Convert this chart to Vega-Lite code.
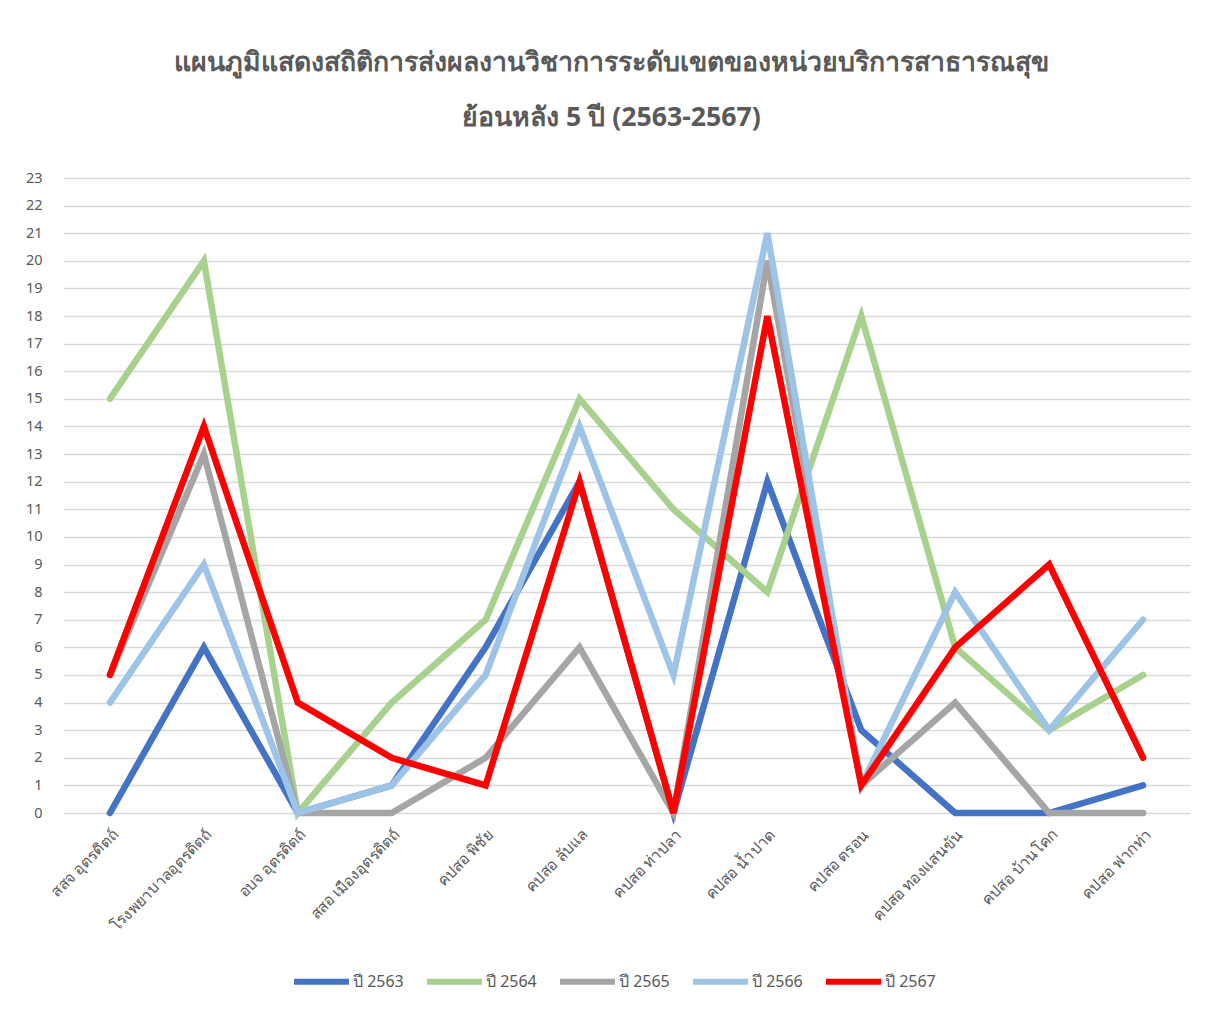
{
  "$schema": "https://vega.github.io/schema/vega-lite/v6.json",
  "autosize": {"type": "none"},
  "padding": {"left": 63, "top": 178, "right": 25, "bottom": 206},
  "width": 1127,
  "height": 635,
  "background": "white",
  "title": {
    "text": ["แผนภูมิแสดงสถิติการส่งผลงานวิชาการระดับเขตของหน่วยบริการสาธารณสุข", "ย้อนหลัง 5 ปี (2563-2567)"],
    "anchor": "middle",
    "dx": -15,
    "fontSize": 26.7,
    "fontWeight": "bold",
    "color": "#595959",
    "lineHeight": 55,
    "offset": 38,
    "font": "Noto Sans"
  },
  "data": {
    "values": [
      {"unit": "สสจ อุตรดิตถ์", "year": "ปี 2563", "value": 0},
      {"unit": "โรงพยาบาลอุตรดิตถ์", "year": "ปี 2563", "value": 6},
      {"unit": "อบจ อุตรดิตถ์", "year": "ปี 2563", "value": 0},
      {"unit": "สสอ เมืองอุตรดิตถ์", "year": "ปี 2563", "value": 1},
      {"unit": "คปสอ พิชัย", "year": "ปี 2563", "value": 6},
      {"unit": "คปสอ ลับแล", "year": "ปี 2563", "value": 12},
      {"unit": "คปสอ ท่าปลา", "year": "ปี 2563", "value": 0},
      {"unit": "คปสอ น้ำปาด", "year": "ปี 2563", "value": 12},
      {"unit": "คปสอ ตรอน", "year": "ปี 2563", "value": 3},
      {"unit": "คปสอ ทองแสนขัน", "year": "ปี 2563", "value": 0},
      {"unit": "คปสอ บ้านโคก", "year": "ปี 2563", "value": 0},
      {"unit": "คปสอ ฟากท่า", "year": "ปี 2563", "value": 1},
      {"unit": "สสจ อุตรดิตถ์", "year": "ปี 2564", "value": 15},
      {"unit": "โรงพยาบาลอุตรดิตถ์", "year": "ปี 2564", "value": 20},
      {"unit": "อบจ อุตรดิตถ์", "year": "ปี 2564", "value": 0},
      {"unit": "สสอ เมืองอุตรดิตถ์", "year": "ปี 2564", "value": 4},
      {"unit": "คปสอ พิชัย", "year": "ปี 2564", "value": 7},
      {"unit": "คปสอ ลับแล", "year": "ปี 2564", "value": 15},
      {"unit": "คปสอ ท่าปลา", "year": "ปี 2564", "value": 11},
      {"unit": "คปสอ น้ำปาด", "year": "ปี 2564", "value": 8},
      {"unit": "คปสอ ตรอน", "year": "ปี 2564", "value": 18},
      {"unit": "คปสอ ทองแสนขัน", "year": "ปี 2564", "value": 6},
      {"unit": "คปสอ บ้านโคก", "year": "ปี 2564", "value": 3},
      {"unit": "คปสอ ฟากท่า", "year": "ปี 2564", "value": 5},
      {"unit": "สสจ อุตรดิตถ์", "year": "ปี 2565", "value": 5},
      {"unit": "โรงพยาบาลอุตรดิตถ์", "year": "ปี 2565", "value": 13},
      {"unit": "อบจ อุตรดิตถ์", "year": "ปี 2565", "value": 0},
      {"unit": "สสอ เมืองอุตรดิตถ์", "year": "ปี 2565", "value": 0},
      {"unit": "คปสอ พิชัย", "year": "ปี 2565", "value": 2},
      {"unit": "คปสอ ลับแล", "year": "ปี 2565", "value": 6},
      {"unit": "คปสอ ท่าปลา", "year": "ปี 2565", "value": 0},
      {"unit": "คปสอ น้ำปาด", "year": "ปี 2565", "value": 20},
      {"unit": "คปสอ ตรอน", "year": "ปี 2565", "value": 1},
      {"unit": "คปสอ ทองแสนขัน", "year": "ปี 2565", "value": 4},
      {"unit": "คปสอ บ้านโคก", "year": "ปี 2565", "value": 0},
      {"unit": "คปสอ ฟากท่า", "year": "ปี 2565", "value": 0},
      {"unit": "สสจ อุตรดิตถ์", "year": "ปี 2566", "value": 4},
      {"unit": "โรงพยาบาลอุตรดิตถ์", "year": "ปี 2566", "value": 9},
      {"unit": "อบจ อุตรดิตถ์", "year": "ปี 2566", "value": 0},
      {"unit": "สสอ เมืองอุตรดิตถ์", "year": "ปี 2566", "value": 1},
      {"unit": "คปสอ พิชัย", "year": "ปี 2566", "value": 5},
      {"unit": "คปสอ ลับแล", "year": "ปี 2566", "value": 14},
      {"unit": "คปสอ ท่าปลา", "year": "ปี 2566", "value": 5},
      {"unit": "คปสอ น้ำปาด", "year": "ปี 2566", "value": 21},
      {"unit": "คปสอ ตรอน", "year": "ปี 2566", "value": 1},
      {"unit": "คปสอ ทองแสนขัน", "year": "ปี 2566", "value": 8},
      {"unit": "คปสอ บ้านโคก", "year": "ปี 2566", "value": 3},
      {"unit": "คปสอ ฟากท่า", "year": "ปี 2566", "value": 7},
      {"unit": "สสจ อุตรดิตถ์", "year": "ปี 2567", "value": 5},
      {"unit": "โรงพยาบาลอุตรดิตถ์", "year": "ปี 2567", "value": 14},
      {"unit": "อบจ อุตรดิตถ์", "year": "ปี 2567", "value": 4},
      {"unit": "สสอ เมืองอุตรดิตถ์", "year": "ปี 2567", "value": 2},
      {"unit": "คปสอ พิชัย", "year": "ปี 2567", "value": 1},
      {"unit": "คปสอ ลับแล", "year": "ปี 2567", "value": 12},
      {"unit": "คปสอ ท่าปลา", "year": "ปี 2567", "value": 0},
      {"unit": "คปสอ น้ำปาด", "year": "ปี 2567", "value": 18},
      {"unit": "คปสอ ตรอน", "year": "ปี 2567", "value": 1},
      {"unit": "คปสอ ทองแสนขัน", "year": "ปี 2567", "value": 6},
      {"unit": "คปสอ บ้านโคก", "year": "ปี 2567", "value": 9},
      {"unit": "คปสอ ฟากท่า", "year": "ปี 2567", "value": 2}
    ]
  },
  "mark": {"type": "line", "strokeWidth": 6.5, "strokeCap": "round", "strokeJoin": "miter"},
  "encoding": {
    "x": {
      "field": "unit",
      "type": "nominal",
      "sort": null,
      "scale": {"type": "point", "padding": 0.5},
      "axis": {
        "title": null,
        "labelAngle": -45,
        "labelFontSize": 15.5,
        "labelColor": "#595959",
        "labelFont": "Noto Sans",
        "labelOverlap": false,
        "ticks": false,
        "domain": false,
        "labelPadding": 14,
        "grid": false
      }
    },
    "y": {
      "field": "value",
      "type": "quantitative",
      "scale": {"domain": [0, 23], "nice": false},
      "axis": {
        "title": null,
        "values": [0,1,2,3,4,5,6,7,8,9,10,11,12,13,14,15,16,17,18,19,20,21,22,23],
        "labelOverlap": false,
        "labelFontSize": 14.5,
        "labelColor": "#595959",
        "labelFont": "Noto Sans",
        "ticks": false,
        "domain": false,
        "labelPadding": 21,
        "gridColor": "#d9d9d9",
        "gridWidth": 1.5
      }
    },
    "color": {
      "field": "year",
      "type": "nominal",
      "scale": {
        "domain": ["ปี 2563", "ปี 2564", "ปี 2565", "ปี 2566", "ปี 2567"],
        "range": ["#4472C4", "#A9D18E", "#A5A5A5", "#9DC3E6", "#FF0000"]
      },
      "legend": {
        "title": null,
        "orient": "none",
        "legendX": 228,
        "legendY": 773,
        "direction": "horizontal",
        "symbolType": "stroke",
        "symbolSize": 3025,
        "symbolStrokeWidth": 6,
        "labelFontSize": 16,
        "labelColor": "#595959",
        "labelFont": "Noto Sans",
        "labelOffset": 1,
        "columnPadding": 11
      }
    }
  },
  "config": {"view": {"stroke": null}}
}
